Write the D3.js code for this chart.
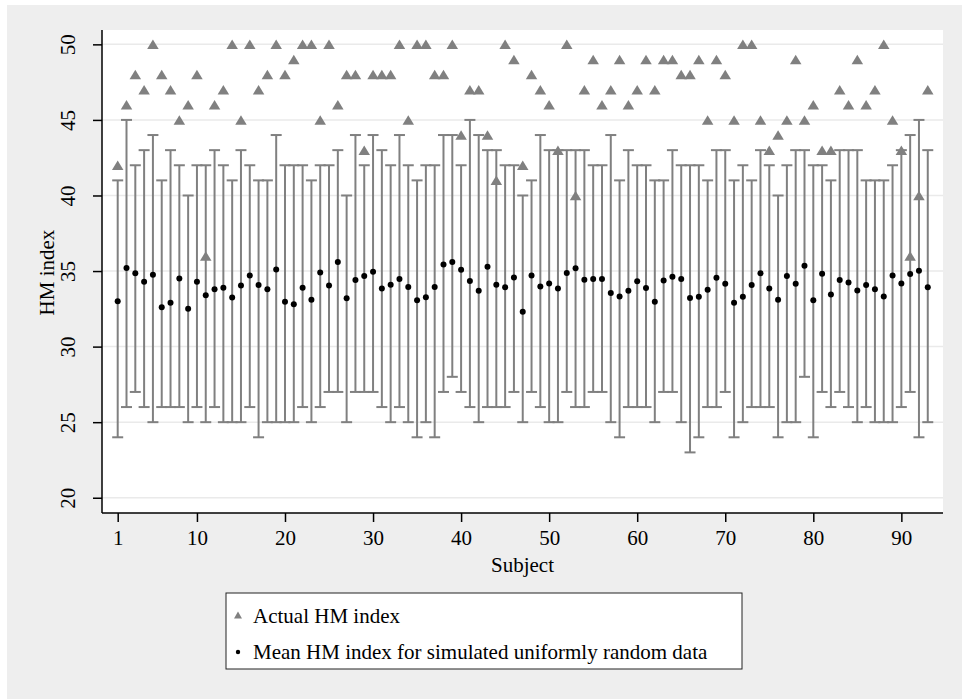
<!DOCTYPE html>
<html>
<head>
<meta charset="utf-8">
<script src="https://cdn.jsdelivr.net/npm/d3@7"></script>
<style>
  html, body { margin: 0; padding: 0; background: #fff; }
  svg { display: block; font-family: "Liberation Serif", "Times New Roman", serif; }
  svg text { font-family: "Liberation Serif", "Times New Roman", serif; }
</style>
</head>
<body>
<div id="chart"></div>
<script>
// --- data: one entry per subject (1..93) ---
const actualHM = [
  42, 46, 48, 47, 50, 48, 47, 45, 46, 48,
  36, 46, 47, 50, 45, 50, 47, 48, 50, 48,
  49, 50, 50, 45, 50, 46, 48, 48, 43, 48,
  48, 48, 50, 45, 50, 50, 48, 48, 50, 44,
  47, 47, 44, 41, 50, 49, 42, 48, 47, 46,
  43, 50, 40, 47, 49, 46, 47, 49, 46, 47,
  49, 47, 49, 49, 48, 48, 49, 45, 49, 48,
  45, 50, 50, 45, 43, 44, 45, 49, 45, 46,
  43, 43, 47, 46, 49, 46, 47, 50, 45, 43,
  36, 40, 47
];
const meanSim = [
  33.0, 35.2, 34.85, 34.3, 34.75, 32.6, 32.9, 34.5, 32.5, 34.3,
  33.4, 33.8, 33.9, 33.25, 34.05, 34.7, 34.07, 33.8, 35.1, 32.97,
  32.8, 33.9, 33.1, 34.9, 34.05, 35.6, 33.2, 34.4, 34.67, 34.95,
  33.85, 34.1, 34.47, 33.94, 33.06, 33.26, 33.94, 35.44, 35.6, 35.09,
  34.34, 33.7, 35.29, 34.1, 33.92, 34.58, 32.3, 34.7, 33.98, 34.18,
  33.85, 34.87, 35.18, 34.43, 34.47, 34.47, 33.54, 33.32, 33.7, 34.32,
  33.87, 32.97, 34.38, 34.62, 34.47, 33.21, 33.3, 33.76, 34.56, 34.16,
  32.9, 33.3, 34.07, 34.85, 33.85, 33.1, 34.67, 34.16, 35.35, 33.06,
  34.82, 33.45, 34.4, 34.25, 33.72, 34.07, 33.8, 33.32, 34.71, 34.18,
  34.8, 35.02, 33.92
];
const lowSim = [
  24, 26, 27, 26, 25, 26, 26, 26, 25, 26,
  25, 26, 25, 25, 25, 26, 24, 25, 25, 25,
  25, 26, 25, 26, 27, 27, 25, 27, 27, 27,
  26, 25, 26, 25, 24, 25, 24, 27, 28, 27,
  26, 25, 26, 26, 26, 27, 25, 27, 26, 25,
  25, 27, 26, 26, 27, 27, 25, 24, 26, 26,
  26, 25, 27, 27, 25, 23, 24, 26, 26, 27,
  24, 25, 26, 26, 26, 24, 25, 25, 28, 24,
  27, 26, 27, 26, 25, 26, 25, 25, 25, 26,
  27, 24, 25
];
const highSim = [
  41, 45, 42, 43, 44, 41, 43, 42, 40, 42,
  42, 43, 42, 41, 43, 42, 41, 41, 44, 42,
  42, 42, 41, 42, 42, 43, 40, 44, 42, 44,
  43, 42, 44, 42, 41, 42, 42, 44, 44, 42,
  45, 44, 43, 43, 42, 42, 40, 41, 44, 43,
  43, 43, 43, 43, 42, 42, 44, 41, 43, 42,
  42, 41, 41, 43, 42, 42, 42, 41, 43, 43,
  41, 42, 41, 43, 42, 40, 42, 43, 43, 42,
  42, 41, 43, 43, 43, 41, 41, 41, 42, 43,
  44, 45, 43
];
const subjects = d3.range(1, actualHM.length + 1);
const xTicks = [1, 10, 20, 30, 40, 50, 60, 70, 80, 90];
const yTicks = [20, 25, 30, 35, 40, 45, 50];
const legendLabels = ["Actual HM index", "Mean HM index for simulated uniformly random data"];

const rows = subjects.map((s, i) => ({
  s, actual: actualHM[i], mean: meanSim[i], lo: lowSim[i], hi: highSim[i]
}));

// --- layout ---
const W = 962, H = 699;
const plot = { left: 102, right: 943, top: 30, bottom: 513 };
const grey = "#808080";
const fontSize = 21;

const svg = d3.select("#chart").append("svg")
  .attr("width", W).attr("height", H);

// graph background
svg.append("rect")
  .attr("x", 7).attr("y", 5)
  .attr("width", W - 7).attr("height", H - 5)
  .attr("fill", "#eeeeee");

// plot region
svg.append("rect")
  .attr("x", plot.left).attr("y", plot.top)
  .attr("width", plot.right - plot.left).attr("height", plot.bottom - plot.top)
  .attr("fill", "#fff");

const x = d3.scaleLinear().domain([-0.783, 94.73]).range([plot.left, plot.right]);
const y = d3.scaleLinear().domain([18.99, 50.95]).range([plot.bottom, plot.top]);

// gridlines
svg.append("g").selectAll("line")
  .data(yTicks).join("line")
  .attr("x1", plot.left).attr("x2", plot.right)
  .attr("y1", d => y(d)).attr("y2", d => y(d))
  .attr("stroke", "#eaeaea").attr("stroke-width", 1.5);

// error bars (range of simulated data)
const capW = 5.5;
const bars = svg.append("g")
  .attr("stroke", grey).attr("stroke-width", 2).attr("fill", "none");
bars.selectAll("line.stem").data(rows).join("line").attr("class", "stem")
  .attr("x1", d => x(d.s)).attr("x2", d => x(d.s))
  .attr("y1", d => y(d.lo)).attr("y2", d => y(d.hi));
bars.selectAll("line.capHi").data(rows).join("line").attr("class", "capHi")
  .attr("x1", d => x(d.s) - capW).attr("x2", d => x(d.s) + capW)
  .attr("y1", d => y(d.hi)).attr("y2", d => y(d.hi));
bars.selectAll("line.capLo").data(rows).join("line").attr("class", "capLo")
  .attr("x1", d => x(d.s) - capW).attr("x2", d => x(d.s) + capW)
  .attr("y1", d => y(d.lo)).attr("y2", d => y(d.lo));

// triangles: actual HM index
const tri = (w, h) => `M0,${-h / 2}L${w / 2},${h / 2}L${-w / 2},${h / 2}Z`;
svg.append("g").selectAll("path")
  .data(rows).join("path")
  .attr("d", tri(11.5, 9.5))
  .attr("transform", d => `translate(${x(d.s)},${y(d.actual)})`)
  .attr("fill", grey);

// dots: mean of simulated data
svg.append("g").selectAll("circle")
  .data(rows).join("circle")
  .attr("cx", d => x(d.s)).attr("cy", d => y(d.mean))
  .attr("r", 3).attr("fill", "#000");

// axes
const yAxis = d3.axisLeft(y).tickValues(yTicks).tickSize(9).tickPadding(0).tickFormat(d3.format("d"));
const yG = svg.append("g").attr("transform", `translate(${plot.left},0)`).call(yAxis)
  .attr("font-family", null).attr("font-size", fontSize);
yG.select(".domain").attr("d", `M0,${plot.top}V${plot.bottom}`).attr("stroke", "#000").attr("stroke-width", 1.5);
yG.selectAll(".tick line").attr("stroke", "#000").attr("stroke-width", 1.5);
yG.selectAll(".tick text")
  .attr("x", 0).attr("dy", null)
  .attr("transform", "translate(-27,0) rotate(-90)")
  .attr("text-anchor", "middle")
  .attr("fill", "#000");

const xAxis = d3.axisBottom(x).tickValues(xTicks).tickSize(9).tickPadding(8).tickFormat(d3.format("d"));
const xG = svg.append("g").attr("transform", `translate(0,${plot.bottom})`).call(xAxis)
  .attr("font-family", null).attr("font-size", fontSize);
xG.select(".domain").attr("d", `M${plot.left},0H${plot.right}`).attr("stroke", "#000").attr("stroke-width", 1.5);
xG.selectAll(".tick line").attr("stroke", "#000").attr("stroke-width", 1.5);
xG.selectAll(".tick text").attr("fill", "#000");

// axis titles
svg.append("text")
  .attr("transform", `translate(54,${(plot.top + plot.bottom) / 2 + 1}) rotate(-90)`)
  .attr("text-anchor", "middle")
  .attr("font-size", fontSize).text("HM index");
svg.append("text")
  .attr("x", (plot.left + plot.right) / 2).attr("y", 572)
  .attr("text-anchor", "middle")
  .attr("font-size", fontSize).text("Subject");

// legend
const lg = svg.append("g").attr("transform", "translate(226,593)");
lg.append("rect")
  .attr("width", 516).attr("height", 76)
  .attr("fill", "#fff").attr("stroke", "#222").attr("stroke-width", 1);
lg.append("path").attr("d", tri(8, 7)).attr("transform", "translate(12,22)").attr("fill", grey);
lg.append("circle").attr("cx", 12).attr("cy", 59).attr("r", 2.2).attr("fill", "#000");
lg.selectAll("text.lab").data(legendLabels).join("text").attr("class", "lab")
  .attr("x", 27).attr("y", (d, i) => 30 + i * 36)
  .attr("font-size", fontSize).text(d => d);
</script>
</body>
</html>
